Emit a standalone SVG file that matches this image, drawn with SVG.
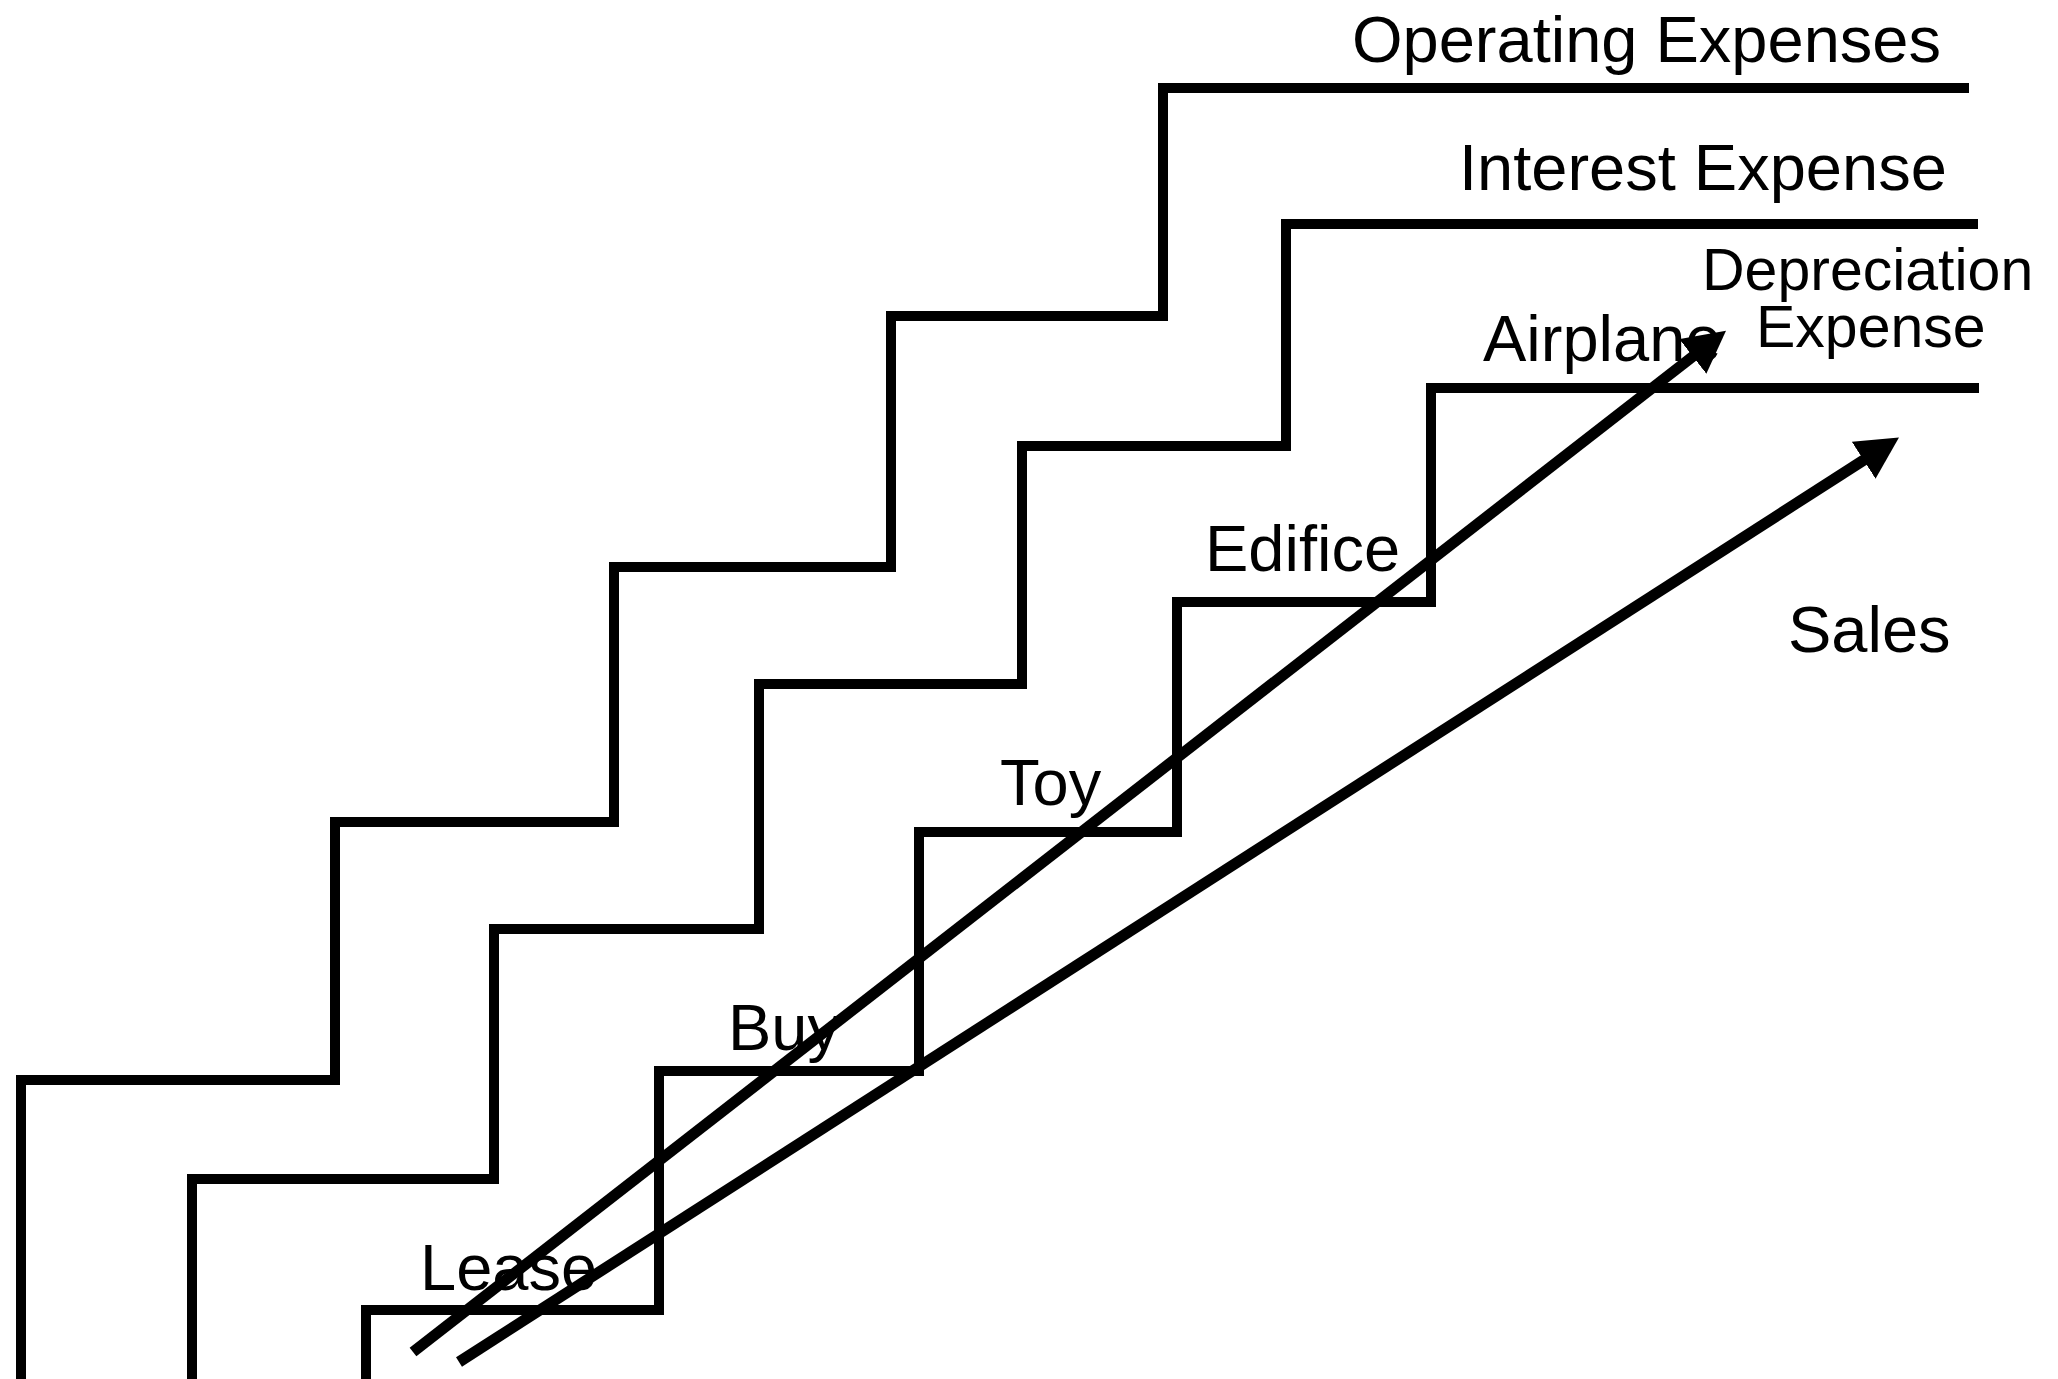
<svg xmlns="http://www.w3.org/2000/svg" width="2058" height="1379" viewBox="0 0 2058 1379">
<style>
.stair{fill:none;stroke:#000;stroke-width:10;stroke-linejoin:miter}
.arr{fill:none;stroke:#000;stroke-width:11;stroke-linecap:butt}
.lbl{font-family:"Liberation Sans",Arial,sans-serif;font-size:65px;fill:#000}
.sm{font-size:59px}
</style>
<defs>
<marker id="ah" viewBox="0 0 42 44" refX="4" refY="22" markerWidth="42" markerHeight="44" markerUnits="userSpaceOnUse" orient="auto">
<path d="M0,0 L42,22 L0,44 z" fill="#000"/>
</marker>
</defs>
<rect width="2058" height="1379" fill="#fff"/>
<g id="operating-expenses">
<polyline class="stair" points="21,1379 21,1080 335,1080 335,822 614,822 614,567 891,567 891,316 1163,316 1163,88 1969,88"/>
<text class="lbl" x="1352" y="62">Operating Expenses</text>
</g>
<g id="interest-expense">
<polyline class="stair" points="192,1379 192,1179 494,1179 494,929 759,929 759,684 1022,684 1022,446 1286,446 1286,224 1978,224"/>
<text class="lbl" x="1459" y="190">Interest Expense</text>
</g>
<g id="depreciation-expense">
<polyline class="stair" points="366,1379 366,1310 659,1310 659,1071 919,1071 919,832 1177,832 1177,602 1431,602 1431,388 1979,388"/>
<text class="lbl sm" x="1702" y="290">Depreciation</text>
<text class="lbl sm" x="1756" y="347">Expense</text>
</g>
<g id="step-labels">
<text class="lbl" x="420" y="1290">Lease</text>
<text class="lbl" x="728" y="1050">Buy</text>
<text class="lbl" x="1000" y="805">Toy</text>
<text class="lbl" x="1205" y="571">Edifice</text>
<text class="lbl" x="1483" y="361">Airplane</text>
</g>
<g id="sales">
<text class="lbl" x="1788" y="652">Sales</text>
</g>
<g id="connectors">
<line class="arr" x1="413" y1="1352" x2="1696" y2="354" marker-end="url(#ah)"/>
<line class="arr" x1="459" y1="1362" x2="1867" y2="458" marker-end="url(#ah)"/>
</g>
</svg>
